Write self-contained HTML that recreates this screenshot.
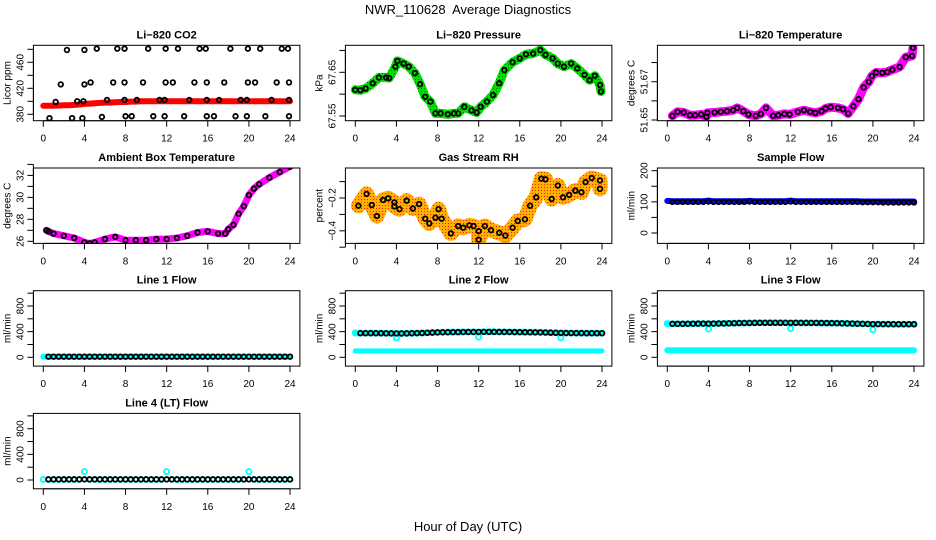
<!DOCTYPE html>
<html><head><meta charset="utf-8"><style>
html,body{margin:0;padding:0;background:#fff;}
svg{display:block;font-family:"Liberation Sans",Arial,sans-serif;}
</style></head><body>
<svg id="chart" width="936" height="540" viewBox="0 0 936 540" xmlns="http://www.w3.org/2000/svg">
<defs>
<pattern id="greenSpeck" width="3" height="3" patternUnits="userSpaceOnUse"><rect width="3" height="3" fill="#00e000"/><rect x="1" y="1" width="1" height="1" fill="#007000"/></pattern>
<pattern id="orangeSpeck" width="3" height="3" patternUnits="userSpaceOnUse"><rect width="3" height="3" fill="#ffb000"/><rect x="1" y="1" width="1" height="1" fill="#ff2000"/></pattern>
</defs>
<text x="468" y="14" text-anchor="middle" font-size="13">NWR_110628&#160; Average Diagnostics</text>
<text x="468" y="531" text-anchor="middle" font-size="13">Hour of Day (UTC)</text>
</svg>
<script>
const halfHours=[0,0.5,1,1.5,2,2.5,3,3.5,4,4.5,5,5.5,6,6.5,7,7.5,8,8.5,9,9.5,10,10.5,11,11.5,12,12.5,13,13.5,14,14.5,15,15.5,16,16.5,17,17.5,18,18.5,19,19.5,20,20.5,21,21.5,22,22.5,23,23.5,24];
const xTicks=[0,4,8,12,16,20,24];

// CO2
const co2BandValues=[393,393,393,393.5,394,394,394.5,395,396,396.5,397,397.5,398,398,398.5,399,399,399.5,399.5,400,400,400,400,400,400,400,400,400,400,400,400,400,400,400,400,400,400,400,400,400,400,400,400,400,400,400,400,400,400];
const co2PointHours=[2.3,4.0,5.2,7.2,7.9,10.2,11.9,13.1,15.2,15.8,18.2,19.9,21.1,23.2,23.8,1.7,4.0,4.6,6.8,7.9,9.7,11.9,12.6,14.7,15.9,17.6,19.9,20.6,22.7,23.9,1.2,3.3,3.9,6.2,7.9,9.1,11.3,11.8,14.2,15.9,17.1,19.2,19.8,22.2,23.9,0.6,2.8,3.8,5.7,8.0,8.6,10.7,11.8,13.7,15.9,16.6,18.7,19.8,21.6,23.9];
const co2PointValues=[479,479,481,481,481,481,481,481,481,481,481,481,481,481,481,426,426,429,429,429,429,429,429,429,429,429,429,429,429,429,399,400,400,402,402,402,402,402,402,402,402,402,402,402,402,374,374,374,376,377,377,377,377,377,377,377,377,377,377,377];

// Pressure
const presHours=[0,0.5,1,1.7,2.3,3,3.3,3.9,4.1,4.7,5.2,5.8,6.3,6.8,7.3,7.8,8.3,9,9.6,10,10.6,11.3,11.8,12.2,12.8,13.4,14,14.5,15.3,16,16.6,17.3,18,18.5,19.2,19.7,20.3,21,21.6,22.3,22.8,23.3,23.8,23.9];
const presValues=[67.610,67.609,67.613,67.625,67.638,67.638,67.637,67.663,67.676,67.670,67.663,67.648,67.623,67.594,67.583,67.556,67.556,67.554,67.556,67.556,67.571,67.563,67.558,67.571,67.583,67.598,67.625,67.655,67.673,67.682,67.691,67.693,67.701,67.690,67.682,67.670,67.663,67.670,67.659,67.644,67.632,67.642,67.621,67.606];

// Li-820 temperature
const tempHours=[0.5,1,1.6,2.2,2.7,3.3,3.8,3.9,4.6,5.2,5.8,6.4,6.8,7.4,7.9,8.6,9.1,9.6,10.3,10.8,11.4,11.9,12.7,13.3,13.9,14.4,15,15.4,15.9,16.6,17.1,17.6,18.1,18.6,19.1,19.6,19.9,20.3,20.9,21.4,21.9,22.6,23.2,23.8,23.9];
const tempValues=[51.6522,51.6543,51.6539,51.6525,51.6525,51.6529,51.6517,51.6537,51.6539,51.6543,51.6546,51.6551,51.6563,51.6546,51.6529,51.6522,51.6532,51.6563,51.6522,51.6525,51.6532,51.6529,51.6543,51.6551,51.6543,51.6537,51.6546,51.6560,51.6567,51.6563,51.6556,51.6534,51.6572,51.6609,51.6670,51.6699,51.6730,51.6748,51.6746,51.6751,51.6763,51.6777,51.6828,51.6835,51.6877];

// Ambient box temperature
const ambHours=[0.3,0.5,1,2,3,4,4.5,5,6,7,8,9,10,11,12,13,14,15,16,17,17.7,18,18.5,19,19.5,20,20.5,21,22,23,24];
const ambValues=[27,26.9,26.7,26.5,26.3,25.9,25.8,25.9,26.2,26.4,26.1,26.1,26.1,26.2,26.2,26.3,26.5,26.8,26.9,26.7,26.7,27.1,27.5,28.5,29.2,30.2,30.8,31.2,31.8,32.3,32.8];

// Gas stream RH
const rhHours=[0.3,1.1,1.6,2.1,2.7,3.2,3.8,3.8,4.3,5,5.6,6.2,6.8,7.2,7.8,8.1,8.4,9.3,10,10.5,11.1,11.5,12,12,12.6,13.2,14,14.6,15.3,15.8,16.5,17,17.6,18.1,18.5,19.1,19.7,20.2,20.8,21.4,22,22.4,23,23.8,23.8];
const rhValues=[-0.247,-0.175,-0.243,-0.310,-0.212,-0.202,-0.227,-0.251,-0.268,-0.216,-0.264,-0.237,-0.326,-0.355,-0.320,-0.268,-0.326,-0.416,-0.371,-0.381,-0.367,-0.371,-0.402,-0.454,-0.371,-0.396,-0.412,-0.429,-0.381,-0.340,-0.330,-0.247,-0.196,-0.082,-0.086,-0.206,-0.124,-0.196,-0.181,-0.155,-0.165,-0.103,-0.078,-0.093,-0.144];

// Sample flow
const sampleBlack=[100,100,100,100,100,100,100,100,101,100,100,100,100,100,100,100,101,100,100,100,100,100,100,100,101,100,100,100,100,100,100,100,100,100,100,100,100,100,99,99,99,99,98,98,98,98,98,98,98];
const sampleBlue=[103,102,102,102,102,102,102,102,104,102,102,102,102,102,102,102,103,102,102,102,102,102,102,102,104,102,102,102,102,102,102,102,102,102,102,102,102,102,101,101,101,101,101,101,101,101,101,101,101];

// Line flows
const line1Black=[10,10,10,10,10,10,10,10,10,10,10,10,10,10,10,10,10,10,10,10,10,10,10,10,10,10,10,10,10,10,10,10,10,10,10,10,10,10,10,10,10,10,10,10,10,10,10,10,10];
const line1Cyan=[8,8,8,8,8,8,8,8,8,8,8,8,8,8,8,8,8,8,8,8,8,8,8,8,8,8,8,8,8,8,8,8,8,8,8,8,8,8,8,8,8,8,8,8,8,8,8,8,8];
const line2Black=[375,376,376,376,375,375,374,373,372,372,373,375,377,379,382,385,388,390,391,392,393,394,395,395,396,396,396,396,395,395,394,393,392,391,390,389,388,386,384,382,380,379,378,377,377,376,376,376,376];
const line2CyanHi=[380,378,378,378,377,377,376,375,305,372,373,375,377,379,384,387,390,392,393,394,395,396,397,397,315,398,398,398,397,397,396,395,394,393,392,391,390,388,386,384,305,379,378,377,377,376,376,376,376];
const line2CyanLo=[100,100,100,100,100,100,100,100,100,100,100,100,100,100,100,100,100,100,100,100,100,100,100,100,100,100,100,100,100,100,100,100,100,100,100,100,100,100,100,100,100,100,100,100,100,100,100,100,100];
const line3Black=[520,522,522,522,523,524,525,525,525,526,527,528,530,532,534,535,536,537,538,538,538,538,538,538,538,538,537,537,536,536,535,534,533,532,530,528,526,524,522,520,518,518,517,517,516,516,516,516,516];
const line3CyanHi=[525,522,522,522,523,524,525,525,440,526,527,528,530,532,534,535,536,537,538,538,538,538,538,538,450,538,537,537,536,536,535,534,533,532,530,528,526,524,522,520,430,518,517,517,516,516,516,516,516];
const line3CyanLo=[110,110,110,110,110,110,110,110,110,110,110,110,110,110,110,110,110,110,110,110,110,110,110,110,110,110,110,110,110,110,110,110,110,110,110,110,110,110,110,110,110,110,110,110,110,110,110,110,110];
const line4Black=[10,10,10,10,10,10,10,10,10,10,10,10,10,10,10,10,10,10,10,10,10,10,10,10,10,10,10,10,10,10,10,10,10,10,10,10,10,10,10,10,10,10,10,10,10,10,10,10,10];
const line4Cyan=[8,8,8,8,8,8,8,8,130,8,8,8,8,8,8,8,8,8,8,8,8,8,8,8,130,8,8,8,8,8,8,8,8,8,8,8,8,8,8,8,130,8,8,8,8,8,8,8,8];

const svg=document.getElementById('chart');
const NS='http://www.w3.org/2000/svg';
const colX0=[43.3,355.3,667.3];
const rowTop=[45.3,168,290.7,413.4];
const PXH=10.28, BOXH=75.4;

function mk(tag,attrs,parent){const e=document.createElementNS(NS,tag);for(const k in attrs)e.setAttribute(k,attrs[k]);(parent||svg).appendChild(e);return e;}

function panel(name,title,ylab,col,row,yA,yB,yTicks,yLabels){
  const g=mk('g',{});
  
  
  const x0=colX0[col],T=rowTop[row];
  const xs=h=>x0+h*PXH;
  const ys=v=>T+yA[1]+(v-yA[0])*(yB[1]-yA[1])/(yB[0]-yA[0]);
  const left=x0-9.9,right=x0+24.96*PXH,bottom=T+BOXH;
  const t=mk('text',{x:(left+right)/2,y:T-7,'text-anchor':'middle','font-size':11,'font-weight':'bold'},g);
  t.textContent=title;
  
  
  const yl=mk('text',{x:0,y:0,transform:`translate(${x0-33},${T+BOXH/2}) rotate(-90)`,'text-anchor':'middle','font-size':10},g);
  yl.textContent=ylab;
  
  
  const ax=mk('g',{stroke:'#000','stroke-width':1},g);
  
  
  mk('line',{x1:xs(0),x2:xs(24),y1:bottom,y2:bottom},ax);
  xTicks.forEach(h=>{
    mk('line',{x1:xs(h),x2:xs(h),y1:bottom,y2:bottom+6},ax);
    const l=mk('text',{x:xs(h),y:bottom+21,'text-anchor':'middle','font-size':10},g);
    l.textContent=h;
    
    
  });
  mk('line',{x1:left,x2:left,y1:ys(yTicks[0]),y2:ys(yTicks[yTicks.length-1])},ax);
  yTicks.forEach(v=>mk('line',{x1:left-6,x2:left,y1:ys(v),y2:ys(v)},ax));
  yLabels.forEach(v=>{
    const l=mk('text',{x:0,y:0,transform:`translate(${left-10},${ys(v)}) rotate(-90)`,'text-anchor':'middle','font-size':10},g);
    l.textContent=String(v).replace('-','\u2212');
    
    
  });
  const clip='clip-'+name;
  const cp=mk('clipPath',{id:clip},g);mk('rect',{x:left,y:T,width:right-left,height:BOXH},cp);
  const plot=mk('g',{'clip-path':`url(#${clip})`},g);
  mk('rect',{x:left,y:T,width:right-left,height:BOXH,fill:'none',stroke:'#000','stroke-width':1},g);
  return {xs,ys,plot,name};
}
function band(p,hours,vals,color,w,label){
  const d=hours.map((h,i)=>(i?'L':'M')+p.xs(h).toFixed(1)+','+p.ys(vals[i]).toFixed(1)).join('');
  const e=mk('path',{d,fill:'none',stroke:color,'stroke-width':w,'stroke-linecap':'round','stroke-linejoin':'round'},p.plot);
  
  
}
function dots(p,hours,vals,color,r,label,start){
  const g=mk('g',{fill:'none',stroke:color,'stroke-width':1.8},p.plot);
  
  
  hours.forEach((h,i)=>{if(i<(start||0))return;
    const c=mk('circle',{cx:p.xs(h),cy:p.ys(vals[i]),r:r},g);
    
    
  });
}

let p;
p=panel('co2','Li\u2212820 CO2','Licor ppm',0,0,[380,69],[460,17],[380,400,420,440,460,480],[380,420,460]);
band(p,halfHours,co2BandValues,'#ff0000',6,'red-band');
dots(p,co2PointHours,co2PointValues,'#000',2.3,'points');

p=panel('pressure','Li\u2212820 Pressure','kPa',1,0,[67.55,70.7],[67.65,27],[67.55,67.6,67.65,67.7],['67.55','67.65']);
band(p,presHours,presValues,'url(#greenSpeck)',9,'green-band');
dots(p,presHours,presValues,'#000',2.3,'points');

p=panel('li820-temp','Li\u2212820 Temperature','degrees C',2,0,[51.65,74.7],[51.67,36.4],[51.65,51.66,51.67,51.68],['51.65','51.67']);
band(p,tempHours,tempValues,'#ff00ff',9,'magenta-band');
dots(p,tempHours,tempValues,'#000',2.3,'points');

p=panel('ambient','Ambient Box Temperature','degrees C',0,1,[26,73.3],[32,7.4],[26,27,28,29,30,31,32,33],[26,28,30,32]);
band(p,ambHours,ambValues,'#ff00ff',7,'magenta-band');
dots(p,ambHours,ambValues,'#000',2.3,'points');

p=panel('rh','Gas Stream RH','percent',1,1,[-0.2,30],[-0.4,62.8],[-0.5,-0.4,-0.3,-0.2,-0.1],['-0.4','-0.2']);
band(p,rhHours,rhValues,'url(#orangeSpeck)',15,'orange-band');
dots(p,rhHours,rhValues,'#000',2.3,'points');

p=panel('sample-flow','Sample Flow','ml/min',2,1,[0,65],[200,2.7],[0,50,100,150,200],[0,100,200]);
band(p,halfHours,sampleBlue,'#0000ff',6,'blue-band');
dots(p,halfHours,sampleBlack,'#000',2.3,'points',1);

const flowT=[0,200,400,600,800,1000],flowL=[0,400,800];
p=panel('line1-flow','Line 1 Flow','ml/min',0,2,[0,66.6],[800,15.3],flowT,flowL);
band(p,halfHours,line1Cyan,'#00ffff',6,'cyan-band');
dots(p,halfHours,line1Black,'#000',2.3,'points',1);

p=panel('line2-flow','Line 2 Flow','ml/min',1,2,[0,66.6],[800,15.3],flowT,flowL);
band(p,halfHours,line2CyanLo,'#00ffff',5,'cyan-low-band');
band(p,halfHours,line2Black,'#00ffff',6,'cyan-high-band');
dots(p,halfHours,line2CyanHi,'#00ffff',2.6,'cyan-high-points');
dots(p,halfHours,line2Black,'#000',2.3,'points',1);

p=panel('line3-flow','Line 3 Flow','ml/min',2,2,[0,66.6],[800,15.3],flowT,flowL);
band(p,halfHours,line3CyanLo,'#00ffff',6,'cyan-low-band');
band(p,halfHours,line3Black,'#00ffff',6,'cyan-high-band');
dots(p,halfHours,line3CyanHi,'#00ffff',2.6,'cyan-high-points');
dots(p,halfHours,line3Black,'#000',2.3,'points',1);

p=panel('line4-flow','Line 4 (LT) Flow','ml/min',0,3,[0,66.6],[800,15.3],flowT,flowL);
dots(p,halfHours,line4Cyan,'#00ffff',2.6,'cyan-points');
dots(p,halfHours,line4Black,'#000',2.3,'points',1);
</script>
</body></html>
